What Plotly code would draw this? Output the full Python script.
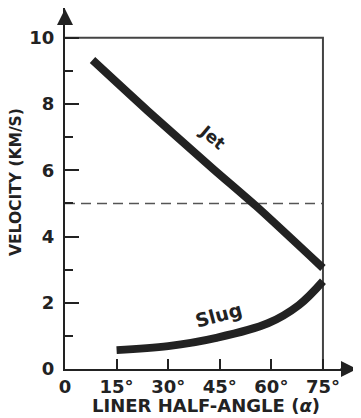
import plotly.graph_objects as go

# Data
jet_angle = [8, 24, 43, 56, 75]
jet_velocity = [9.33, 7.8, 6.05, 4.88, 3.05]

slug_angle = [15, 30, 44, 59, 68, 75]
slug_velocity = [0.57, 0.69, 0.94, 1.38, 1.93, 2.65]

ref_velocity = 5.0
frame_top = 10
frame_right = 75

x_tickvals = [0, 15, 30, 45, 60, 75]
x_ticktext = ["0", "15°", "30°", "45°", "60°", "75°"]
y_tickvals = [0, 2, 4, 6, 8, 10]
y_ticktext = ["0", "2", "4", "6", "8", "10"]
y_minor = [1, 3, 5, 7, 9]

INK = "#222222"
FONT = "DejaVu Sans"

# page offset of the figure inside the browser page (body margin)
OFF = 8
W, H = 361 - OFF, 418 - OFF
ML, MR, MT, MB = 57, 4, 0, 49
PW, PH = W - ML - MR, H - MT - MB

fig = go.Figure()

# dashed reference line
fig.add_trace(go.Scatter(x=[0, frame_right], y=[ref_velocity, ref_velocity], mode="lines",
                         line=dict(color="#555555", width=1.5, dash="10px,6px"),
                         hoverinfo="skip", showlegend=False))
# frame (top and right)
fig.add_trace(go.Scatter(x=[0, frame_right, frame_right], y=[frame_top, frame_top, 0], mode="lines",
                         line=dict(color="#444444", width=2),
                         hoverinfo="skip", showlegend=False))
# Jet
fig.add_trace(go.Scatter(x=jet_angle, y=jet_velocity, mode="lines", name="Jet",
                         line=dict(color=INK, width=8, shape="spline", smoothing=0.6), showlegend=False))
# Slug
fig.add_trace(go.Scatter(x=slug_angle, y=slug_velocity, mode="lines", name="Slug",
                         line=dict(color=INK, width=8, shape="spline"), showlegend=False))

fig.update_layout(
    width=W, height=H,
    margin=dict(l=ML, r=MR, t=MT, b=MB),
    plot_bgcolor="white", paper_bgcolor="white",
    font=dict(family=FONT, color=INK),
    xaxis=dict(range=[0, 84.9], tickvals=x_tickvals, ticktext=x_ticktext,
               ticks="inside", ticklen=10, tickwidth=2, tickcolor=INK,
               showline=True, linecolor=INK, linewidth=2,
               showgrid=False, zeroline=False,
               tickfont=dict(family=FONT, size=18, weight="bold", color=INK),
               ticklabelstandoff=0),
    yaxis=dict(range=[0, 10.9], tickvals=y_tickvals, ticktext=y_ticktext,
               ticks="inside", ticklen=14, tickwidth=2, tickcolor=INK,
               minor=dict(tickvals=y_minor, ticks="inside", ticklen=8, tickwidth=2, tickcolor=INK),
               showline=True, linecolor=INK, linewidth=2,
               showgrid=False, zeroline=False,
               tickfont=dict(family=FONT, size=18, weight="bold", color=INK),
               ticklabelstandoff=5),
)

# axis arrowheads
fig.add_annotation(x=1, y=0, xref="paper", yref="paper", text="", showarrow=True,
                   ax=-18, ay=0, arrowhead=2, arrowsize=1.6, arrowwidth=2, arrowcolor=INK, standoff=0)
fig.add_annotation(x=0, y=1, xref="paper", yref="paper", text="", showarrow=True,
                   ax=0, ay=18, arrowhead=2, arrowsize=1.6, arrowwidth=2, arrowcolor=INK, standoff=0)

# curve labels
fig.add_annotation(x=42.8, y=7.0, text="<b>Jet</b>", showarrow=False, textangle=40,
                   xanchor="center", yanchor="middle",
                   font=dict(family=FONT, size=17, color=INK))
fig.add_annotation(x=44.5, y=1.63, text="<b>Slug</b>", showarrow=False, textangle=-15,
                   xanchor="center", yanchor="middle",
                   font=dict(family=FONT, size=19, color=INK))


def page_to_paper(px, py):
    return (px - OFF - ML) / PW, (H - MB - (py - OFF)) / PH


# axis titles (positions given in page pixels)
tx, ty = page_to_paper(16, 182)
fig.add_annotation(x=tx, y=ty, xref="paper", yref="paper", text="<b>VELOCITY (KM/S)</b>",
                   xanchor="center", yanchor="middle",
                   showarrow=False, textangle=-90, font=dict(family=FONT, size=15.5, color=INK))
tx, ty = page_to_paper(206, 405)
fig.add_annotation(x=tx, y=ty, xref="paper", yref="paper", text="<b>LINER HALF-ANGLE (<i>α</i>)</b>",
                   xanchor="center", yanchor="middle",
                   showarrow=False, font=dict(family=FONT, size=18, color=INK))

fig.write_html("out.html")
